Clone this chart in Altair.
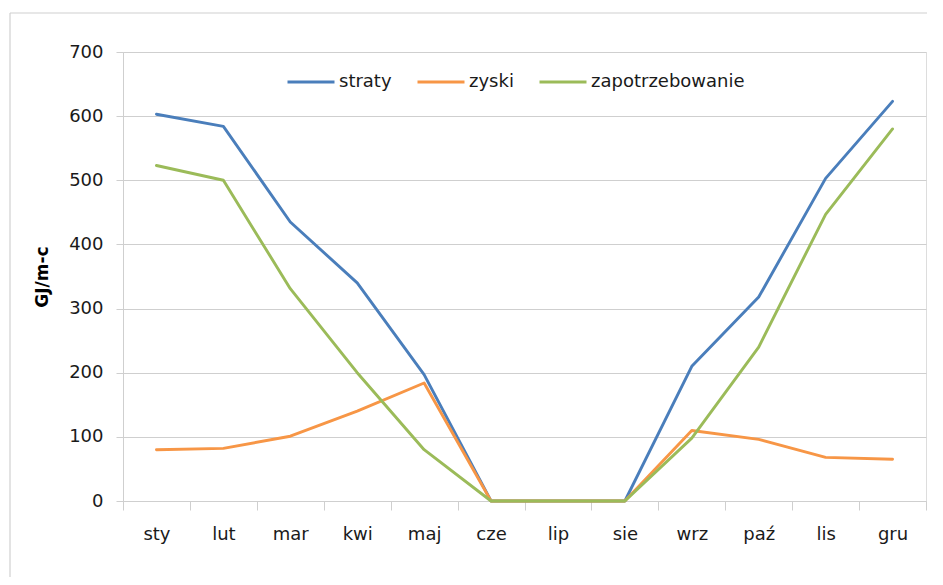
import altair as alt
import pandas as pd

months = ["sty", "lut", "mar", "kwi", "maj", "cze", "lip", "sie", "wrz", "paź", "lis", "gru"]
series_names = ["straty", "zyski", "zapotrzebowanie"]
straty = [603, 584, 435, 340, 197, 0, 0, 0, 210, 318, 503, 623]
zyski = [80, 82, 101, 140, 184, 0, 0, 0, 110, 96, 68, 65]
zapotrzebowanie = [523, 500, 331, 200, 80, 0, 0, 0, 98, 240, 447, 580]
colors = ["#4A7EBB", "#F79646", "#9BBB59"]
y_ticks = [0, 100, 200, 300, 400, 500, 600, 700]

rows = []
for name, vals in zip(series_names, [straty, zyski, zapotrzebowanie]):
    for m, v in zip(months, vals):
        rows.append({"miesiac": m, "seria": name, "wartosc": v})
df = pd.DataFrame(rows)

FONT = "DejaVu Sans"
GRID = "#cfcfcf"
TXT = "#1a1a1a"

W, H = 803, 449

lines = alt.Chart(df).mark_line(strokeWidth=2.9, strokeJoin="round", strokeCap="round").encode(
    x=alt.X("miesiac:O", sort=months,
            scale=alt.Scale(type="band", paddingInner=0, paddingOuter=0),
            axis=alt.Axis(title=None, tickBand="extent", ticks=True, tickSize=9,
                          tickColor=GRID, domainColor=GRID, grid=False,
                          labelAngle=0, labelFont=FONT, labelFontSize=18,
                          labelColor=TXT, labelPadding=15, labelBaseline="top")),
    y=alt.Y("wartosc:Q", scale=alt.Scale(domain=[0, 700], nice=False),
            axis=alt.Axis(title="GJ/m-c", values=y_ticks, tickSize=7, tickColor=GRID,
                          domainColor=GRID, gridColor=GRID, grid=True,
                          labelFont=FONT, labelFontSize=18, labelColor=TXT,
                          labelPadding=13, titleFont=FONT, titleFontSize=17,
                          titleFontWeight="bold", titleColor="#000000",
                          titleX=-81, titleY=H / 2, titleBaseline="middle",
                          titleAlign="center", titleAngle=-90)),
    color=alt.Color("seria:N", scale=alt.Scale(domain=series_names, range=colors),
                    legend=alt.Legend(title=None, orient="none", direction="horizontal",
                                      legendX=163, legendY=5, symbolType="stroke",
                                      symbolSize=2209, symbolStrokeWidth=3,
                                      labelFont=FONT, labelFontSize=18, labelColor=TXT,
                                      columnPadding=19, labelOffset=3, padding=0)),
)

frame_df = pd.DataFrame({"k": [0]})
frame_left = alt.Chart(frame_df).mark_rule(color="#d0d0d0", strokeWidth=1.2).encode(
    x=alt.value(-113), y=alt.value(-39), y2=alt.value(540))
frame_top = alt.Chart(frame_df).mark_rule(color="#d0d0d0", strokeWidth=1.2).encode(
    x=alt.value(-113), x2=alt.value(810), y=alt.value(-39))

chart = alt.layer(frame_left, frame_top, lines).properties(
    width=W, height=H,
    padding={"left": 115, "top": 44, "right": 1, "bottom": 76},
    autosize=alt.AutoSizeParams(type="none"),
).configure_view(stroke=None).configure(background="white")

chart.save("out.html", embed_options={"renderer": "svg", "actions": False})
